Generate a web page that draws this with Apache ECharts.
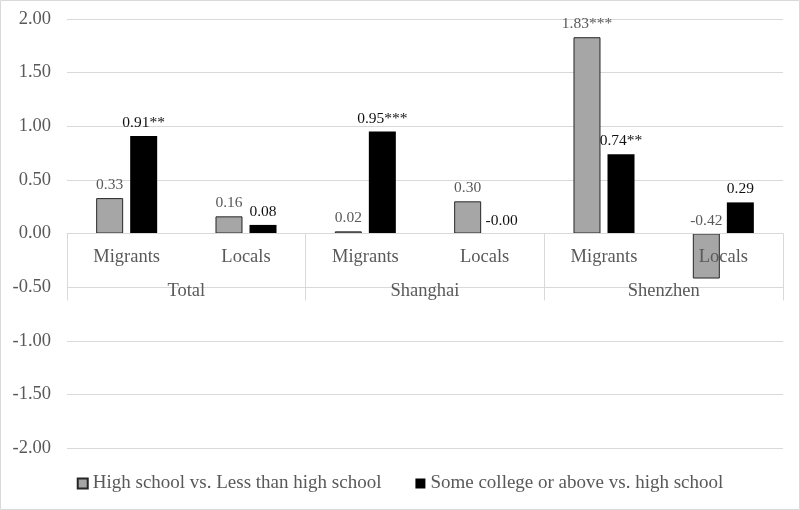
<!DOCTYPE html>
<html>
<head>
<meta charset="utf-8">
<script src="https://cdn.jsdelivr.net/npm/echarts@6/dist/echarts.min.js"></script>
<style>
html,body{margin:0;padding:0;background:#fff;}
#chart{width:800px;height:510px;}
</style>
</head>
<body>
<div id="chart"></div>
<script>
const categories = ['Migrants', 'Locals', 'Migrants', 'Locals', 'Migrants', 'Locals'];
const groups = ['Total', 'Shanghai', 'Shenzhen'];
const seriesNames = ['High school vs. Less than high school', 'Some college or above vs. high school'];
const highSchool = [0.33, 0.16, 0.02, 0.30, 1.83, -0.42];
const college = [0.91, 0.08, 0.95, -0.004, 0.74, 0.29];
const highSchoolStars = ['', '', '', '', '***', ''];
const collegeStars = ['**', '', '***', '', '**', ''];
const yMin = -2, yMax = 2, yStep = 0.5;

const FONT = "'Liberation Serif', 'Times New Roman', serif";
const chart = echarts.init(document.getElementById('chart'));

const gridTop = 19, gridBottom = 62;
const gridHeight = 510 - gridTop - gridBottom;
const zeroFromBottom = gridHeight * (0 - yMin) / (yMax - yMin);

function fmt(stars) {
  return function (p) { return p.value.toFixed(2) + stars[p.dataIndex]; };
}

chart.setOption({
  animation: false,
  backgroundColor: '#fff',
  graphic: [{
    type: 'rect', shape: { x: 0.5, y: 0.5, width: 799, height: 509 },
    style: { fill: 'none', stroke: '#d9d9d9', lineWidth: 1 }, silent: true
  }],
  grid: { left: 67, right: 17, top: gridTop, bottom: gridBottom },
  legend: {
    bottom: 12, left: 'center', itemWidth: 10, itemHeight: 10, itemGap: 34,
    icon: 'rect',
    textStyle: { fontFamily: FONT, fontSize: 19, color: '#595959' },
    data: seriesNames
  },
  xAxis: [{
    type: 'category', data: categories, position: 'bottom', z: 3,
    offset: -zeroFromBottom,
    axisLine: { onZero: false, lineStyle: { color: '#d9d9d9', width: 1 } },
    axisTick: { show: false },
    axisLabel: { margin: 14, fontFamily: FONT, fontSize: 18.5, color: '#595959' },
    splitLine: { show: false }
  }, {
    type: 'category', data: groups, position: 'bottom', z: 3,
    offset: -zeroFromBottom,
    axisLine: { show: false, onZero: false },
    axisTick: { show: true, length: 67, lineStyle: { color: '#d9d9d9' } },
    axisLabel: { margin: 48, fontFamily: FONT, fontSize: 18.5, color: '#595959' },
    splitLine: { show: false }
  }],
  yAxis: {
    type: 'value', min: yMin, max: yMax, interval: yStep,
    axisLine: { show: false }, axisTick: { show: false },
    axisLabel: { margin: 16, fontFamily: FONT, fontSize: 18.5, color: '#595959',
      formatter: function (v) { return v.toFixed(2); } },
    splitLine: { lineStyle: { color: '#d9d9d9', width: 1 } }
  },
  series: [{
    name: seriesNames[0], type: 'bar', xAxisIndex: 0, data: highSchool,
    barWidth: 27, barGap: '26%',
    itemStyle: { color: '#a6a6a6', borderColor: '#262626', borderWidth: 1 },
    label: { show: true, position: 'top', distance: 5, fontFamily: FONT, fontSize: 15.5,
      color: '#595959', formatter: fmt(highSchoolStars) }
  }, {
    name: seriesNames[1], type: 'bar', xAxisIndex: 0, data: college,
    barWidth: 27, barGap: '26%',
    itemStyle: { color: '#000' },
    label: { show: true, position: 'top', distance: 5, fontFamily: FONT, fontSize: 15.5,
      color: '#111', formatter: fmt(collegeStars) }
  }]
});
</script>
</body>
</html>
